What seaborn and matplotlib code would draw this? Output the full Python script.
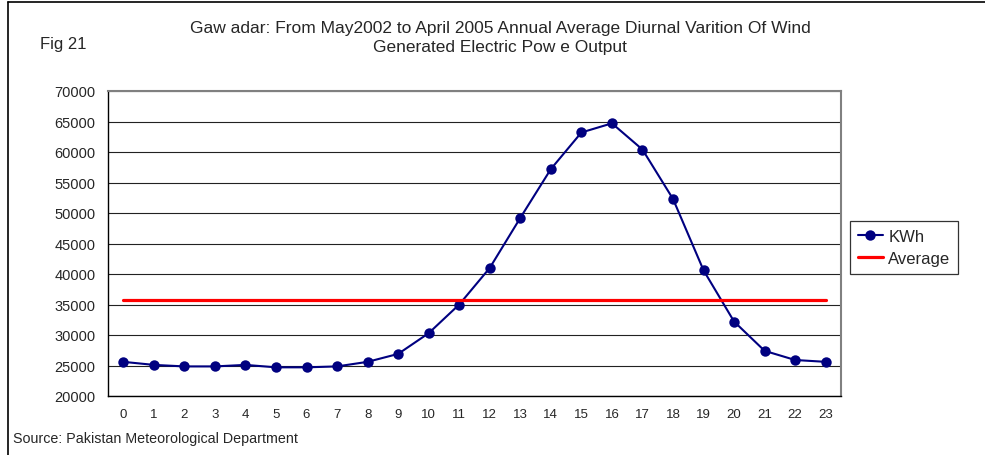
import matplotlib
matplotlib.use("Agg")
import matplotlib.pyplot as plt
from matplotlib.lines import Line2D
import numpy as np
import pandas as pd
import seaborn as sns

# data
hours = list(range(24))
kwh = [25600, 25100, 24850, 24850, 25100, 24700, 24700, 24850, 25600, 26900,
       30300, 35000, 41000, 49200, 57200, 63200, 64700, 60400, 52300, 40600,
       32200, 27400, 25900, 25600]
average_kwh = 35700

title = ("Gaw adar: From May2002 to April 2005 Annual Average Diurnal Varition Of Wind\n"
         "Generated Electric Pow e Output")

df = pd.DataFrame({"hour": hours, "KWh": kwh})
df["Average"] = average_kwh

sns.set_style("white")
plt.rcParams["font.family"] = ["Liberation Sans", "DejaVu Sans"]

fig = plt.figure(figsize=(9.85, 4.56), dpi=100)
ax = fig.add_axes([108 / 985, 59 / 456, 733 / 985, 305 / 456])

sns.lineplot(data=df, x="hour", y="KWh", ax=ax, color="#000080", linewidth=1.5,
             marker="o", markersize=7.5, markeredgewidth=0, label="KWh")
sns.lineplot(data=df, x="hour", y="Average", ax=ax, color="#ff0000",
             linewidth=2.3, label="Average")

ax.set_xlim(-0.5, 23.5)
ax.set_ylim(20000, 70000)
ax.set_yticks(range(20000, 70001, 5000))
ax.set_xticks(hours)
ax.set_xticks(np.arange(-0.5, 24, 1), minor=True)
ax.tick_params(axis="x", which="major", length=0, labelsize=9.5, pad=9)
ax.tick_params(axis="x", which="minor", length=4, direction="out", width=0.9, color="black")
ax.tick_params(axis="y", length=4, direction="out", width=0.9, color="black", labelsize=10.5, pad=5)
ax.set_xlabel("")
ax.set_ylabel("")
ax.yaxis.grid(True, color="#222222", linewidth=0.8)
ax.set_axisbelow(True)

for side in ["left", "bottom"]:
    ax.spines[side].set_color("black")
    ax.spines[side].set_linewidth(1.0)
for side in ["top", "right"]:
    ax.spines[side].set_color("#808080")
    ax.spines[side].set_linewidth(1.5)

leg = ax.legend(loc="upper left", bbox_to_anchor=(850 / 985, 1 - 222 / 456),
                bbox_transform=fig.transFigure, frameon=True, fancybox=False,
                fontsize=12, handlelength=1.5, borderpad=0.45, labelspacing=0.45,
                handletextpad=0.35, borderaxespad=0)
leg.get_frame().set_edgecolor("black")
leg.get_frame().set_linewidth(0.9)

fig.text(500 / 985, 1 - 38 / 456, title, ha="center", va="center", fontsize=12.5,
         linespacing=1.3)
fig.text(40 / 985, 1 - 45 / 456, "Fig 21", ha="left", va="center", fontsize=12)
fig.text(13 / 985, 1 - 439 / 456, "Source: Pakistan Meteorological Department",
         ha="left", va="center", fontsize=10.3)

# outer chart frame (left and top edges visible in the reference)
fig.add_artist(Line2D([8 / 985, 8 / 985], [0, 1 - 3 / 456], color="black", linewidth=1.2,
                      transform=fig.transFigure))
fig.add_artist(Line2D([8 / 985, 1], [1 - 3 / 456, 1 - 3 / 456], color="black", linewidth=1.2,
                      transform=fig.transFigure))

fig.savefig("out.png", dpi=100)
